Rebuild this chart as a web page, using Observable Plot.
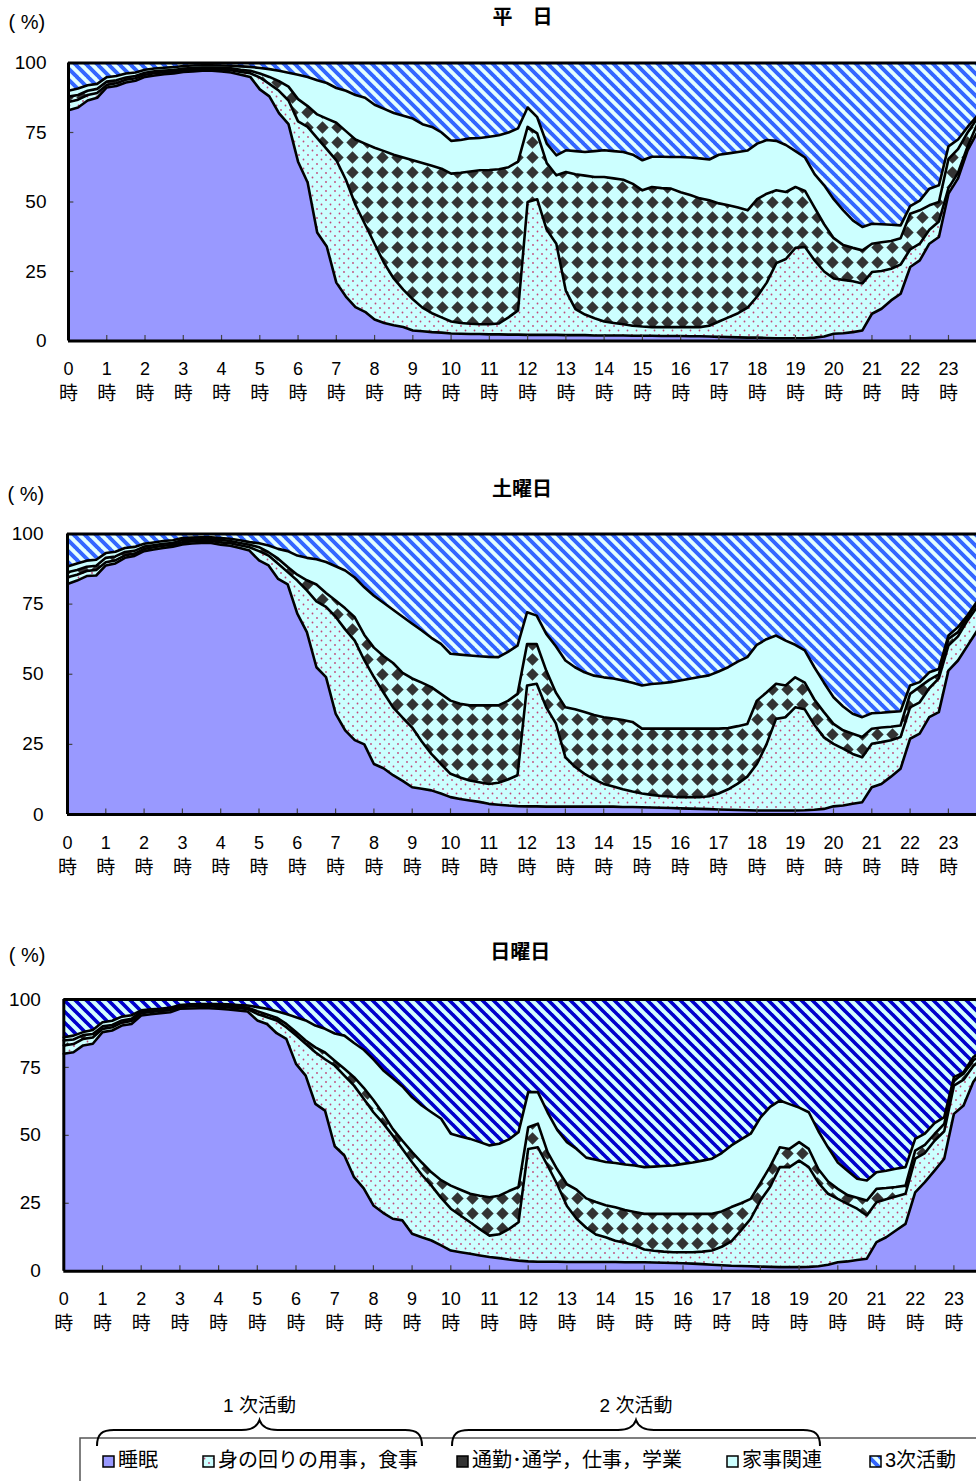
<!DOCTYPE html>
<html lang="ja">
<head>
<meta charset="utf-8">
<script src="https://cdn.jsdelivr.net/npm/d3@7"></script>
<script src="https://cdn.jsdelivr.net/npm/@observablehq/plot@0.6"></script>
<style>
  html, body { margin: 0; padding: 0; background: #fff; overflow: hidden; }
  body { width: 976px; }
  #charts svg { display: block; }
  #charts text { font-family: "Liberation Sans", "Noto Sans CJK JP", sans-serif; }
  .legend text { font-family: "Noto Sans CJK JP", "Liberation Sans", sans-serif; }
</style>
</head>
<body>
<!-- fill patterns shared by all three panels and the legend -->
<svg width="0" height="0" style="position:absolute">
  <defs>
    <pattern id="dots" patternUnits="userSpaceOnUse" width="9" height="9">
      <rect width="9" height="9" fill="#ccffff"/>
      <circle cx="2" cy="2" r="0.9" fill="#c04878"/>
      <circle cx="6.5" cy="6.5" r="0.9" fill="#c04878"/>
    </pattern>
    <pattern id="diamonds" patternUnits="userSpaceOnUse" width="15" height="15">
      <rect width="15" height="15" fill="#ccffff"/>
      <path d="M7.5,1.3L13.7,7.5L7.5,13.7L1.3,7.5Z" fill="#333"/>
    </pattern>
    <pattern id="stripesLight" patternUnits="userSpaceOnUse" width="11" height="11">
      <rect width="11" height="11" fill="#e4ffff"/>
      <path d="M-1,-1L12,12M-12,-1L1,12M10,-1L23,12" stroke="#3366ff" stroke-width="3.9"/>
    </pattern>
    <pattern id="stripesDark" patternUnits="userSpaceOnUse" width="11" height="11">
      <rect width="11" height="11" fill="#d4ffff"/>
      <path d="M-1,-1L12,12M-12,-1L1,12M10,-1L23,12" stroke="#0000cc" stroke-width="3.7"/>
    </pattern>
  </defs>
</svg>
<div id="charts"></div>
<script>
// Share of people (%) by activity, every 15 minutes from 0:00 to 23:45.
const slots = d3.range(96).map(i => i / 4);
const hours = d3.range(24);
const yTicks = [0, 25, 50, 75, 100];
const categories = ["睡眠", "身の回りの用事，食事", "通勤･通学，仕事，学業", "家事関連", "3次活動"];
const groupLabels = ["1 次活動", "2 次活動"];
const panelTitles = ["平　日", "土曜日", "日曜日"];

// 平日
const weekdaySleep = [
  83.0, 84.0, 86.5, 87.5, 91.2, 91.7, 93.0, 93.6,
  95.0, 95.5, 96.0, 96.2, 96.8, 97.0, 97.2, 97.2,
  97.0, 96.6, 95.8, 95.0, 90.5, 88.0, 82.0, 78.0,
  64.5, 57.0, 39.0, 34.0, 21.0, 16.0, 12.2, 10.5,
  7.7, 6.5, 5.7, 5.0, 3.8, 3.5, 3.2, 3.0,
  2.7, 2.6, 2.5, 2.5, 2.4, 2.4, 2.3, 2.3,
  2.2, 2.2, 2.2, 2.2, 2.1, 2.1, 2.1, 2.0,
  2.0, 2.0, 2.0, 1.9, 1.9, 1.9, 1.8, 1.8,
  1.8, 1.7, 1.7, 1.6, 1.5, 1.4, 1.3, 1.2,
  1.2, 1.1, 1.0, 1.0, 1.0, 1.0, 1.2, 1.6,
  2.6, 2.8, 3.2, 3.8, 9.8, 11.6, 14.6, 17.0,
  26.6, 29.0, 35.0, 37.4, 53.0, 58.5, 68.6, 75.0
];
const weekdayPersonal = [
  3.0, 2.8, 2.0, 1.7, 0.9, 1.0, 1.0, 0.9,
  0.8, 0.8, 0.7, 0.7, 0.6, 0.6, 0.6, 0.6,
  0.7, 0.8, 1.0, 1.3, 4.3, 4.5, 8.0, 8.5,
  14.5, 20.0, 34.0, 35.0, 44.0, 42.0, 36.8, 31.5,
  27.3, 21.5, 16.8, 13.5, 11.2, 8.5, 6.8, 5.5,
  4.3, 3.9, 3.7, 3.5, 3.6, 3.9, 6.2, 8.7,
  47.8, 48.8, 37.8, 32.8, 15.9, 9.4, 7.4, 6.2,
  5.0, 4.5, 4.0, 3.6, 3.3, 3.1, 3.2, 3.2,
  3.2, 3.3, 3.3, 3.9, 5.5, 7.1, 8.7, 10.8,
  14.8, 19.9, 27.0, 28.5, 32.5, 32.8, 27.8, 23.4,
  19.9, 19.2, 18.3, 16.9, 15.0, 13.6, 11.4, 10.5,
  6.4, 6.0, 5.0, 5.6, 2.0, 2.0, 1.4, 3.0
];
const weekdayWork = [
  1.9, 1.7, 1.5, 1.5, 1.2, 1.1, 0.8, 0.8,
  0.7, 0.7, 0.6, 0.6, 0.6, 0.6, 0.6, 0.6,
  0.6, 0.7, 0.8, 0.9, 1.4, 2.5, 3.5, 5.0,
  8.0, 7.5, 8.5, 11.0, 13.5, 17.5, 23.5, 29.0,
  34.5, 40.3, 44.5, 47.5, 50.0, 52.0, 53.0, 53.5,
  53.2, 54.0, 54.8, 55.4, 55.5, 55.5, 54.0, 53.5,
  27.0, 23.7, 24.0, 24.6, 42.8, 48.5, 50.0, 50.8,
  52.0, 52.0, 52.0, 51.0, 49.0, 50.4, 50.0, 49.8,
  48.5, 47.5, 46.3, 45.1, 42.5, 40.3, 38.0, 35.0,
  35.0, 32.0, 26.2, 24.1, 21.9, 20.2, 19.0, 17.0,
  14.5, 12.5, 12.0, 11.9, 10.2, 10.3, 10.0, 9.5,
  12.8, 12.0, 8.8, 7.0, 10.5, 8.5, 5.0, 2.0
];
const weekdayHouse = [
  2.1, 2.3, 2.0, 1.8, 1.6, 1.5, 1.4, 1.3,
  1.1, 1.0, 1.0, 1.0, 0.9, 0.9, 0.8, 0.8,
  0.8, 0.9, 1.2, 1.4, 2.0, 2.8, 3.7, 5.0,
  8.8, 10.5, 12.3, 12.8, 12.5, 14.5, 16.0, 16.5,
  15.5, 15.2, 15.0, 15.0, 15.0, 14.0, 14.0, 13.0,
  11.8, 11.8, 11.9, 11.6, 12.0, 12.2, 12.5, 12.0,
  7.0, 5.8, 7.0, 7.2, 7.8, 8.3, 8.5, 9.3,
  9.6, 9.8, 10.0, 10.5, 10.8, 10.9, 11.3, 11.4,
  12.7, 13.5, 14.4, 14.7, 17.5, 18.7, 20.0, 21.5,
  20.0, 19.3, 17.8, 16.9, 12.9, 12.0, 12.0, 14.0,
  14.0, 12.5, 9.9, 8.4, 7.2, 6.5, 5.8, 4.6,
  2.7, 3.5, 6.0, 6.0, 4.5, 3.5, 2.0, 1.0
];

// 土曜日
const saturdaySleep = [
  82.2, 83.4, 85.0, 85.2, 88.8, 89.5, 91.5, 92.2,
  93.9, 94.5, 95.0, 95.5, 96.3, 96.6, 96.8, 96.8,
  96.2, 95.8, 95.0, 94.1, 90.6, 88.8, 84.0, 82.0,
  71.6, 65.0, 52.5, 49.0, 36.0, 30.0, 26.5, 25.0,
  18.0, 16.5, 14.0, 12.0, 9.7, 9.2, 8.6, 7.5,
  6.2, 5.5, 5.0, 4.5, 3.8, 3.5, 3.2, 3.0,
  2.9, 2.9, 2.8, 2.8, 2.8, 2.8, 2.8, 2.8,
  2.8, 2.8, 2.7, 2.7, 2.6, 2.5, 2.4, 2.3,
  2.2, 2.1, 2.0, 1.9, 1.8, 1.7, 1.6, 1.5,
  1.4, 1.4, 1.4, 1.4, 1.4, 1.5, 1.7, 2.0,
  2.9, 3.2, 3.8, 4.4, 9.7, 10.9, 13.5, 16.3,
  27.0, 28.8, 34.7, 36.5, 51.3, 54.9, 60.2, 65.5
];
const saturdayPersonal = [
  2.4, 2.1, 1.8, 2.0, 1.1, 1.1, 0.9, 0.8,
  0.8, 0.8, 0.8, 0.7, 0.8, 0.7, 0.7, 0.7,
  0.8, 0.9, 1.0, 1.2, 3.3, 3.5, 5.4, 4.4,
  11.8, 14.9, 23.5, 25.0, 34.5, 36.0, 35.5, 30.0,
  31.0, 27.0, 24.2, 22.5, 21.3, 16.8, 13.0, 10.5,
  8.3, 7.7, 7.1, 7.0, 7.1, 7.8, 9.3, 11.0,
  43.1, 43.7, 35.4, 29.7, 17.6, 14.2, 11.7, 9.7,
  8.1, 7.2, 6.3, 5.5, 4.9, 4.5, 4.2, 4.1,
  4.0, 4.1, 4.2, 4.6, 5.7, 7.3, 9.4, 12.0,
  16.6, 23.6, 32.7, 33.3, 36.8, 36.0, 30.3, 25.5,
  22.3, 20.3, 17.8, 16.0, 15.5, 14.9, 13.0, 11.3,
  11.2, 11.2, 10.3, 12.0, 8.9, 8.6, 9.0, 8.5
];
const saturdayWork = [
  1.8, 1.7, 1.5, 1.5, 1.6, 1.4, 1.2, 1.0,
  0.8, 0.7, 0.7, 0.6, 0.8, 0.7, 0.6, 0.6,
  0.9, 0.8, 0.8, 0.9, 1.4, 1.2, 1.8, 1.8,
  2.1, 3.6, 6.0, 5.0, 5.8, 7.5, 8.3, 9.0,
  10.5, 13.0, 15.8, 16.0, 17.5, 21.0, 23.8, 25.0,
  26.1, 26.3, 26.8, 27.4, 28.0, 27.6, 28.0, 29.0,
  14.8, 14.2, 13.1, 11.0, 17.8, 20.5, 22.0, 23.0,
  23.8, 24.2, 24.7, 24.8, 23.1, 23.6, 24.0, 24.2,
  24.4, 24.4, 24.4, 24.1, 23.1, 21.8, 20.5, 18.8,
  22.6, 18.5, 12.5, 11.3, 10.7, 9.5, 9.0, 9.0,
  7.1, 6.5, 7.2, 7.2, 5.4, 5.2, 4.8, 4.1,
  4.8, 5.5, 3.0, 1.5, 2.4, 1.5, 1.3, 1.5
];
const saturdayHouse = [
  2.0, 2.3, 2.2, 2.1, 1.7, 1.7, 1.4, 1.4,
  1.0, 1.0, 1.0, 1.0, 0.7, 0.7, 0.7, 0.7,
  0.7, 0.8, 1.0, 0.9, 1.4, 2.4, 3.5, 5.7,
  6.8, 8.0, 9.0, 11.0, 12.2, 13.5, 14.2, 17.0,
  18.5, 19.0, 19.0, 20.0, 19.5, 18.6, 17.6, 17.8,
  16.7, 17.5, 17.8, 17.5, 17.3, 17.2, 17.5, 17.2,
  11.3, 10.1, 13.1, 16.5, 16.7, 15.0, 14.2, 14.0,
  14.2, 14.3, 14.1, 14.0, 15.4, 15.9, 16.2, 16.6,
  17.2, 17.8, 18.4, 19.0, 20.4, 21.7, 23.0, 23.8,
  19.9, 19.0, 17.2, 16.0, 11.6, 11.5, 11.5, 10.5,
  9.5, 8.5, 7.1, 7.1, 5.5, 5.3, 5.3, 5.1,
  3.0, 1.7, 2.7, 1.9, 1.2, 1.8, 0.5, 0.5
];

// 日曜日
const sundaySleep = [
  80.0, 80.6, 83.1, 83.7, 88.0, 88.6, 90.4, 91.0,
  94.1, 94.6, 95.0, 95.3, 96.6, 96.7, 96.8, 96.8,
  96.6, 96.3, 96.0, 95.6, 92.3, 91.0, 87.6, 85.5,
  76.3, 72.0, 61.6, 59.1, 46.0, 42.6, 34.6, 30.5,
  24.2, 21.5, 19.3, 18.7, 13.8, 12.5, 11.3, 9.5,
  7.6, 7.0, 6.4, 5.8, 5.2, 4.8, 4.3, 3.9,
  3.6, 3.5, 3.5, 3.5, 3.4, 3.4, 3.4, 3.4,
  3.4, 3.4, 3.3, 3.3, 3.3, 3.2, 3.1, 3.0,
  2.9, 2.8, 2.6, 2.4, 2.2, 2.0, 1.9, 1.8,
  1.7, 1.6, 1.5, 1.5, 1.5, 1.6, 1.8, 2.4,
  3.3, 3.6, 4.1, 4.6, 10.7, 12.5, 15.0, 17.4,
  29.0, 32.8, 37.0, 41.4, 57.9, 61.0, 69.6, 74.5
];
const sundayPersonal = [
  3.1, 3.0, 2.4, 2.3, 1.2, 1.2, 1.1, 1.1,
  0.9, 0.8, 0.8, 0.8, 0.7, 0.7, 0.7, 0.7,
  0.7, 0.8, 0.8, 0.9, 2.4, 2.5, 4.7, 4.3,
  10.5, 11.7, 19.0, 18.9, 29.7, 29.4, 33.7, 33.0,
  34.3, 33.0, 30.6, 26.3, 26.3, 23.0, 20.2, 17.5,
  15.4, 13.5, 11.6, 9.7, 7.9, 8.8, 11.2, 14.1,
  41.4, 42.1, 35.4, 28.5, 20.6, 15.9, 12.6, 10.1,
  9.1, 7.8, 7.2, 6.2, 4.7, 4.3, 4.1, 4.0,
  4.1, 4.2, 4.6, 5.2, 6.8, 9.0, 13.1, 17.5,
  24.3, 29.4, 36.8, 36.8, 39.2, 36.7, 30.7, 26.1,
  23.3, 21.2, 18.9, 15.9, 14.7, 14.0, 12.5, 11.1,
  12.4, 10.7, 11.0, 10.1, 10.4, 9.5, 5.9, 4.0
];
const sundayWork = [
  1.8, 1.7, 1.4, 1.3, 0.9, 0.8, 0.8, 0.8,
  0.6, 0.6, 0.6, 0.6, 0.4, 0.4, 0.4, 0.4,
  0.5, 0.5, 0.5, 0.5, 1.0, 1.0, 1.0, 1.2,
  1.2, 1.2, 1.8, 2.5, 1.8, 2.5, 3.1, 4.0,
  4.5, 3.5, 2.5, 3.0, 3.7, 4.5, 4.9, 6.5,
  8.5, 9.5, 10.5, 12.3, 14.1, 14.2, 14.0, 13.0,
  8.0, 8.7, 4.9, 5.5, 8.0, 10.7, 10.8, 12.0,
  11.8, 12.3, 12.0, 12.3, 13.1, 13.6, 13.9, 14.1,
  14.1, 14.1, 13.9, 13.5, 13.0, 12.6, 10.0, 7.3,
  6.5, 7.5, 7.3, 6.7, 6.8, 6.7, 5.0, 4.5,
  3.7, 3.2, 4.0, 5.5, 4.9, 4.1, 3.5, 3.0,
  3.0, 3.0, 2.5, 2.7, 1.9, 2.2, 2.1, 1.5
];
const sundayHouse = [
  1.2, 1.4, 1.1, 1.5, 1.5, 1.6, 1.4, 1.3,
  0.4, 0.4, 0.2, 0.3, 0.3, 0.4, 0.4, 0.4,
  0.5, 0.6, 0.7, 0.8, 1.5, 2.1, 2.4, 3.7,
  5.5, 7.4, 8.0, 8.7, 10.0, 12.2, 12.6, 14.0,
  15.0, 16.0, 18.6, 20.0, 20.2, 21.0, 22.1, 22.6,
  19.1, 19.6, 20.2, 19.7, 19.1, 19.1, 19.0, 20.2,
  12.9, 11.6, 14.7, 14.5, 15.5, 15.0, 15.0, 15.5,
  15.9, 16.3, 16.8, 17.1, 17.2, 17.4, 17.6, 17.8,
  18.4, 18.9, 19.6, 20.3, 21.5, 22.7, 23.5, 24.0,
  24.0, 22.0, 17.2, 16.5, 12.7, 13.5, 14.0, 12.5,
  9.7, 9.0, 7.0, 7.4, 6.1, 6.4, 6.7, 6.8,
  4.3, 4.1, 4.0, 2.5, 1.2, 0.5, 1.2, 1.0
];

// Panel layout: svg height, plot frame position and x spacing per hour.
const panels = [
  {title: panelTitles[0], series: [weekdaySleep, weekdayPersonal, weekdayWork, weekdayHouse],
   height: 472, top: 62.5, bottom: 340.5, left: 68, hourPx: 38.26, stripes: "url(#stripesLight)",
   titleDy: -53.5, unitDy: -48.5, unitDx: -60, labelDx: -22},
  {title: panelTitles[1], series: [saturdaySleep, saturdayPersonal, saturdayWork, saturdayHouse],
   height: 464, top: 61.5, bottom: 342, left: 67, hourPx: 38.3, stripes: "url(#stripesLight)",
   titleDy: -52.5, unitDy: -47.5, unitDx: -60, labelDx: -24},
  {title: panelTitles[2], series: [sundaySleep, sundayPersonal, sundayWork, sundayHouse],
   height: 444, top: 63, bottom: 334.7, left: 63.3, hourPx: 38.7, stripes: "url(#stripesDark)",
   titleDy: -55, unitDy: -52, unitDx: -55, labelDx: -23}
];

const font = "'Liberation Sans', 'Noto Sans CJK JP', sans-serif";

function tidy(series) {
  const rows = [];
  slots.forEach((t, i) => {
    const parts = series.map(s => s[i]);
    parts.forEach((v, k) => rows.push({t, cat: categories[k], v}));
    // whatever is left of 100 % is 3次活動
    rows.push({t, cat: categories[4], v: Math.max(0, 100 - d3.sum(parts))});
  });
  return rows;
}

const host = document.getElementById("charts");

for (const p of panels) {
  const data = tidy(p.series);
  const fills = ["#9999ff", "url(#dots)", "url(#diamonds)", "#ccffff", p.stripes];
  const chart = Plot.plot({
    width: 976,
    height: p.height,
    marginTop: p.top,
    marginBottom: p.height - p.bottom,
    marginLeft: p.left,
    marginRight: 0,
    style: {fontFamily: font, color: "#000", background: "#fff"},
    x: {domain: [0, 23.75], range: [p.left, p.left + 23.75 * p.hourPx], axis: null},
    y: {domain: [0, 100], axis: null},
    color: {type: "ordinal", domain: categories, range: fills},
    marks: [
      Plot.areaY(data, Plot.stackY({x: "t", y: "v", z: "cat", fill: "cat"})),
      Plot.lineY(data.filter(d => d.cat !== categories[4]),
        Plot.stackY2({x: "t", y: "v", z: "cat", stroke: "#000", strokeWidth: 2.6, strokeLinejoin: "round"})),
      // inward ticks
      Plot.ruleX(hours, {x: d => d, y1: 0, y2: 2, stroke: "#444", strokeWidth: 1.2}),
      Plot.ruleY(yTicks.slice(1, -1), {y: d => d, x1: 0, x2: 0.14, stroke: "#444", strokeWidth: 1.2}),
      // frame: top, bottom and left edges
      Plot.ruleY([0, 100], {y: d => d, stroke: "#000", strokeWidth: 3}),
      Plot.ruleX([0], {x: d => d, stroke: "#000", strokeWidth: 3}),
      // axis labels
      Plot.text(yTicks, {y: d => d, text: d => String(d), frameAnchor: "left", textAnchor: "end",
        dx: p.labelDx, fontSize: 19, fill: "#000"}),
      Plot.text(hours, {x: d => d, text: d => String(d), frameAnchor: "bottom", dy: 34, fontSize: 18, fill: "#000"}),
      Plot.text(hours, {x: d => d, text: () => "時", frameAnchor: "bottom", dy: 59, fontSize: 19, fill: "#000",
        fontFamily: "'Noto Sans CJK JP', sans-serif"}),
      // title and unit
      Plot.text([p.title], {text: d => d, frameAnchor: "top", dy: p.titleDy, fontSize: 20, fontWeight: "bold",
        fill: "#000", fontFamily: "'Noto Sans CJK JP', sans-serif"}),
      Plot.text(["( %)"], {text: d => d, frameAnchor: "top-left", textAnchor: "start", dx: p.unitDx, dy: p.unitDy,
        fontSize: 20, fill: "#000"})
    ]
  });
  host.appendChild(chart);
}

// Legend with the 1次 / 2次 braces
const legendItems = [
  {label: categories[0], fill: "#9999ff", x: 103},
  {label: categories[1], fill: "url(#dots)", x: 203},
  {label: categories[2], fill: "#333", x: 457},
  {label: categories[3], fill: "#ccffff", x: 727},
  {label: categories[4], fill: "url(#stripesLight)", x: 870}
];
const braces = [
  {label: groupLabels[0], x0: 97, x1: 422},
  {label: groupLabels[1], x0: 452, x1: 820}
];

const legend = d3.create("svg")
  .attr("class", "legend")
  .attr("width", 976).attr("height", 101)
  .style("display", "block");

legend.append("path")
  .attr("d", "M80,101V58H976")
  .attr("fill", "none").attr("stroke", "#555").attr("stroke-width", 1.5);

for (const b of braces) {
  const c = (b.x0 + b.x1) / 2;
  legend.append("path")
    .attr("d", `M${b.x0},66C${b.x0},54 ${b.x0 + 5},50 ${b.x0 + 17},50L${c - 18},50C${c - 8},50 ${c - 2},46 ${c},40`
      + `C${c + 2},46 ${c + 8},50 ${c + 18},50L${b.x1 - 17},50C${b.x1 - 5},50 ${b.x1},54 ${b.x1},66`)
    .attr("fill", "none").attr("stroke", "#000").attr("stroke-width", 2);
  legend.append("text")
    .attr("x", c).attr("y", 27)
    .attr("text-anchor", "middle").attr("dominant-baseline", "middle")
    .attr("font-size", 19).text(b.label);
}

for (const it of legendItems) {
  legend.append("rect")
    .attr("x", it.x).attr("y", 76).attr("width", 11).attr("height", 11)
    .attr("fill", it.fill).attr("stroke", "#000").attr("stroke-width", 1.5);
  legend.append("text")
    .attr("x", it.x + 15).attr("y", 82)
    .attr("dominant-baseline", "middle")
    .attr("font-size", 20).text(it.label);
}

host.appendChild(legend.node());
</script>
</body>
</html>
